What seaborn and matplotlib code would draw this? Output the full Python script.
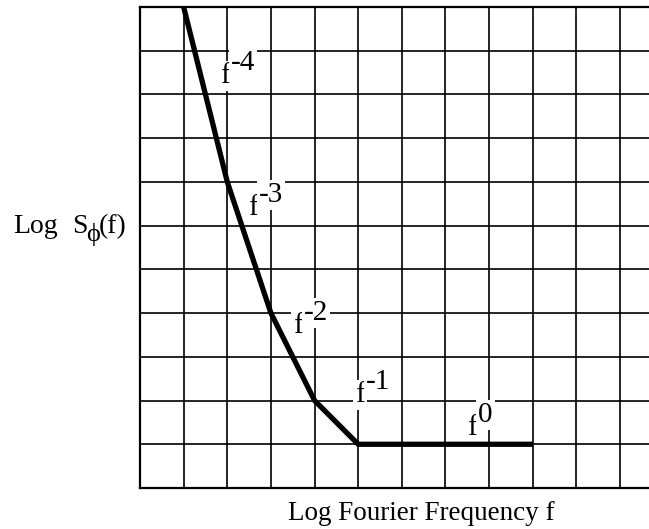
import matplotlib
matplotlib.use("Agg")
import matplotlib.pyplot as plt
import seaborn as sns
import pandas as pd

# Data (grid units: x columns, y rows from bottom)
log_f = [1, 2, 3, 4, 5, 9]
log_s = [11, 7, 4, 2, 1, 1]
slope_labels = ["-4", "-3", "-2", "-1", "0"]
label_x = [1.83, 2.47, 3.5, 4.93, 7.5]
label_y = [9.26, 6.24, 3.55, 1.97, 1.21]

sns.set_theme(style="white")
plt.rcParams['font.family'] = ['Liberation Serif', 'DejaVu Serif']
plt.rcParams['text.color'] = 'black'

W, H = 649, 529
fig = plt.figure(figsize=(W / 100, H / 100), dpi=100)
ax = fig.add_axes([140 / W, 41 / H, 523.7 / W, 481 / H])

df = pd.DataFrame({"log_f": log_f, "log_s": log_s})
sns.lineplot(data=df, x="log_f", y="log_s", color="black", linewidth=3.8,
             ax=ax, zorder=5, sort=False, solid_capstyle="butt")

ax.set_xlim(0, 12)
ax.set_ylim(0, 11)
ax.set_xticks(range(13))
ax.set_yticks(range(12))
ax.tick_params(length=0, labelbottom=False, labelleft=False)
ax.grid(True, color="black", linewidth=1.2)
for s in ax.spines.values():
    s.set_color("black")
    s.set_linewidth(1.6)
ax.set_xlabel("")
ax.set_ylabel("")

fs = 21
for lab, x, y in zip(slope_labels, label_x, label_y):
    ax.text(x, y, "f", fontsize=fs, ha="left", va="baseline", zorder=4,
            color="black",
            bbox=dict(facecolor="white", edgecolor="none", pad=1.5))
    ax.annotate(lab, xy=(x, y), xytext=(11, 13), textcoords="offset pixels",
                fontsize=fs, ha="left", va="baseline", zorder=4, color="black",
                bbox=dict(facecolor="white", edgecolor="none", pad=1.5))

# axis labels
def ftxt(px, py, s, size, **kw):
    fig.text(px / W, 1 - py / H, s, fontsize=size, va="baseline",
             color="black", **kw)

ftxt(421, 520, "Log Fourier Frequency f", 19.5, ha="center")
ftxt(13, 233, "Log", 20, ha="left")
ftxt(72, 233, "S", 20, ha="left")
ftxt(86, 241, "\u03d5", 19, ha="left")
ftxt(99, 233, "(f)", 20, ha="left")

fig.savefig("out.png", dpi=100, facecolor="white")
